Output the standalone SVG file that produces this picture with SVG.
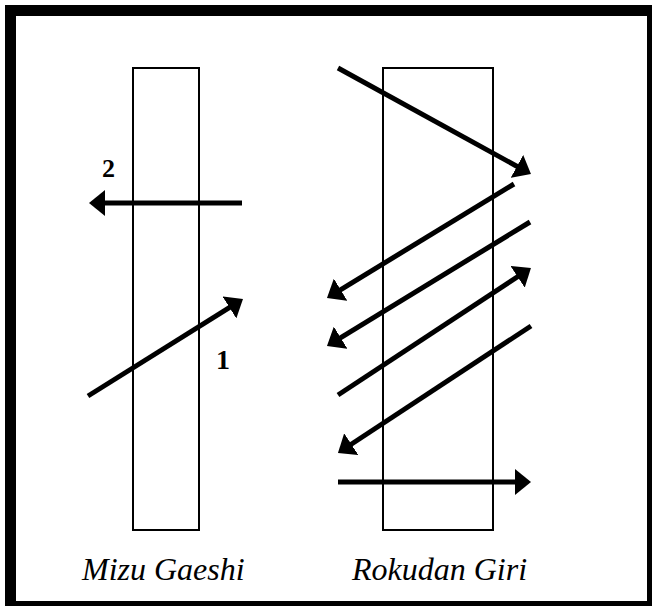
<svg xmlns="http://www.w3.org/2000/svg" width="652" height="606" viewBox="0 0 652 606">
<style>
.post{fill:none;stroke:#000;stroke-width:2}
.cut{fill:none;stroke:#000;stroke-width:5;marker-end:url(#ah)}
text{font-family:Liberation Serif,DejaVu Serif,serif}
.cap{font-style:italic;font-size:32px;fill:#000}
.num{font-weight:bold;fill:#000}
</style>
<defs>
<marker id="ah" viewBox="0 0 16 26" markerWidth="16" markerHeight="26" refX="6" refY="13" orient="auto" markerUnits="userSpaceOnUse">
<path d="M0,0 L16,13 L0,26 z" fill="#000"/>
</marker>
</defs>
<rect width="652" height="606" fill="#fff"/>
<rect x="10.5" y="10.5" width="642" height="596" fill="none" stroke="#000" stroke-width="11"/>
<g id="mizu-gaeshi">
<rect class="post" x="133" y="68" width="66" height="462"/>
<text class="cap" x="82" y="580" font-family="Liberation Serif, serif">Mizu Gaeshi</text>
<text class="num" x="102" y="177" font-family="Liberation Serif, serif" style="font-size:26px">2</text>
<text class="num" x="216" y="369" font-family="Liberation Serif, serif" style="font-size:28px">1</text>
</g>
<g id="rokudan-giri">
<rect class="post" x="383" y="68" width="110" height="462"/>
<text class="cap" x="352" y="580" font-family="Liberation Serif, serif">Rokudan Giri</text>
</g>
<g id="connectors">
<line class="cut" x1="88" y1="396" x2="234.5" y2="304.3"/>
<line class="cut" x1="242" y1="203" x2="99" y2="203"/>
<line class="cut" x1="338" y1="68" x2="522.2" y2="169.2"/>
<line class="cut" x1="514" y1="184" x2="335.5" y2="292.8"/>
<line class="cut" x1="530" y1="222" x2="335.5" y2="340.8"/>
<line class="cut" x1="338" y1="395" x2="522.6" y2="273.5"/>
<line class="cut" x1="531" y1="326" x2="346.3" y2="447.5"/>
<line class="cut" x1="338" y1="482" x2="521" y2="482"/>
</g>
</svg>
